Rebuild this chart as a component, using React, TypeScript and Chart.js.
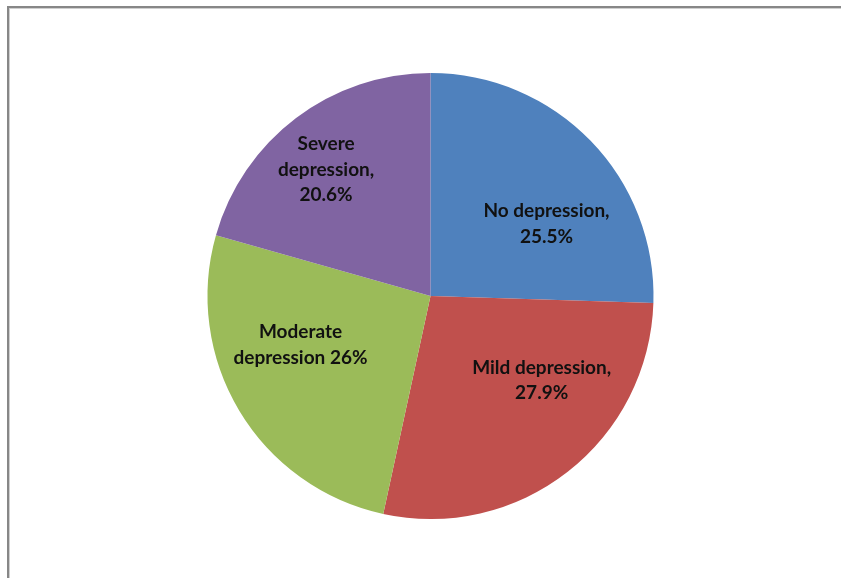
import React, { useEffect, useRef } from "react";
import { Chart, registerables } from "chart.js";

Chart.register(...registerables);

const categories = ["No depression", "Mild depression", "Moderate depression", "Severe depression"];
const values = [25.5, 27.9, 26, 20.6];
const labelLines = [
  ["No depression,", "25.5%"],
  ["Mild depression,", "27.9%"],
  ["Moderate", "depression 26%"],
  ["Severe", "depression,", "20.6%"],
];
const colors = ["#4F81BD", "#C0504D", "#9BBB59", "#8064A2"];
// label placement: fraction of radius and angle shift (degrees) from slice middle
const labelRadiusFrac = [0.612, 0.626, 0.623, 0.735];
const labelAngleShift = [12.3, -14.8, 10.3, -2.5];

const labelPlugin = {
  id: "sliceLabels",
  afterDatasetsDraw(chart: any) {
    const ctx = chart.ctx;
    const meta = chart.getDatasetMeta(0);
    ctx.save();
    ctx.font = "bold 19px Lato, 'Open Sans', sans-serif";
    ctx.fillStyle = "#111";
    ctx.textAlign = "center";
    ctx.textBaseline = "middle";
    const lh = 25.5;
    meta.data.forEach((arc: any, i: number) => {
      const p = arc.getProps(["x", "y", "startAngle", "endAngle", "outerRadius"], true);
      const mid = (p.startAngle + p.endAngle) / 2 + (labelAngleShift[i] * Math.PI) / 180;
      const r = p.outerRadius * labelRadiusFrac[i];
      const cx = p.x + Math.cos(mid) * r;
      const cy = p.y + Math.sin(mid) * r;
      const lines = labelLines[i];
      const y0 = cy - ((lines.length - 1) * lh) / 2;
      lines.forEach((t, k) => ctx.fillText(t, cx, y0 + k * lh));
    });
    ctx.restore();
  },
};

export default function App() {
  const ref = useRef<HTMLCanvasElement>(null);
  useEffect(() => {
    if (!ref.current) return;
    const chart = new Chart(ref.current, {
      type: "pie",
      data: {
        labels: categories,
        datasets: [
          {
            data: values,
            backgroundColor: colors,
            borderWidth: 0,
          },
        ],
      },
      options: {
        animation: false,
        responsive: false,
        maintainAspectRatio: false,
        layout: { padding: { left: 207.5, right: 187.5, top: 73, bottom: 59 } },
        plugins: {
          legend: { display: false },
          tooltip: { enabled: false },
        },
      },
      plugins: [labelPlugin],
    });
    return () => chart.destroy();
  }, []);
  return (
    <div style={{ position: "absolute", left: 0, top: 0, width: 841, height: 578, background: "#fff", overflow: "hidden" }}>
      <canvas ref={ref} width={841} height={578} style={{ position: "absolute", left: 0, top: 0 }} />
      <div style={{ position: "absolute", left: 7, top: 6, width: 834, height: 2, background: "#878787" }} />
      <div style={{ position: "absolute", left: 9, top: 8, width: 832, height: 1, background: "#cfcfcf" }} />
      <div style={{ position: "absolute", left: 7, top: 6, width: 2, height: 572, background: "#878787" }} />
      <div style={{ position: "absolute", left: 9, top: 8, width: 1, height: 570, background: "#cfcfcf" }} />
    </div>
  );
}
